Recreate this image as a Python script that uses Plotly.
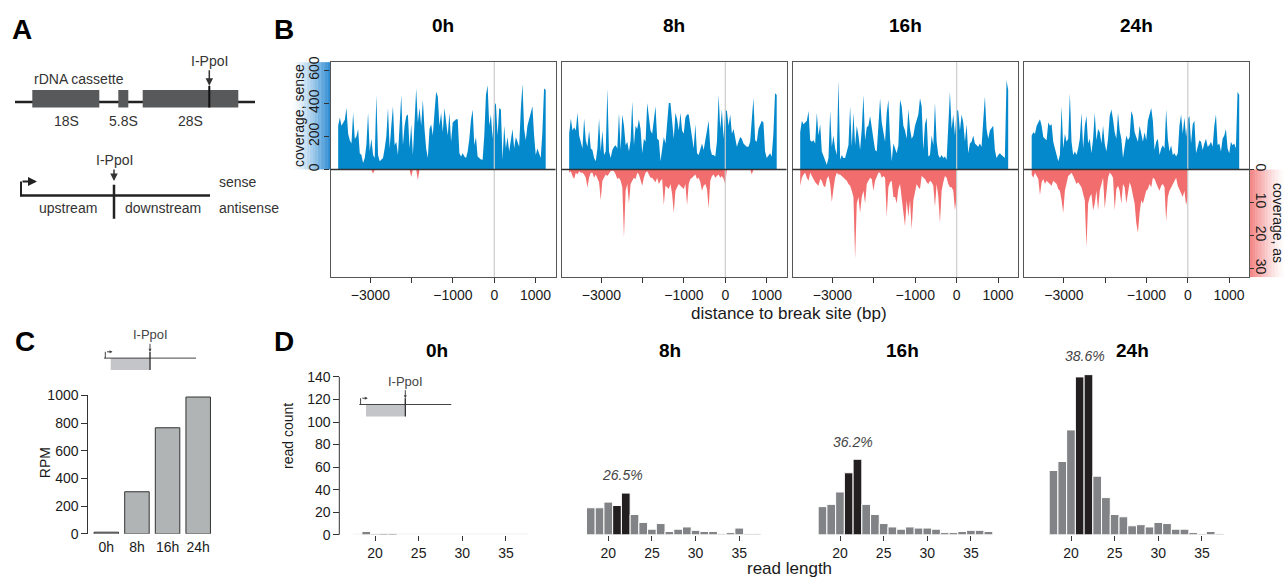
import numpy as np
import plotly.graph_objects as go

W, H = 1286, 583
FONT = "Liberation Sans, Arial, Helvetica, sans-serif"

TIMES = ["0h", "8h", "16h", "24h"]

# ---------------- B: strand-specific coverage around the break site ----------------
POS_START = -3780      # bp, first coverage bin
POS_STEP = 40.2        # bp between bins

SENSE_0H = [265, 314, 265, 284, 300, 372, 216, 176, 157, 343,
            186, 200, 245, 98, 88, 39, 69, 150, 343, 108,
            186, 88, 69, 451, 88, 49, 60, 69, 127, 200,
            372, 127, 265, 382, 147, 167, 88, 265, 451, 147,
            265, 323, 333, 127, 274, 88, 300, 490, 284, 372,
            265, 421, 245, 127, 69, 245, 274, 206, 343, 470,
            441, 265, 343, 225, 372, 265, 206, 343, 167, 284,
            294, 304, 304, 98, 78, 98, 78, 69, 108, 186,
            300, 363, 147, 196, 78, 69, 60, 59, 206, 450,
            510, 265, 333, 186, 382, 402, 206, 372, 363, 59,
            265, 127, 196, 108, 176, 245, 127, 196, 167, 137,
            363, 519, 245, 176, 265, 304, 333, 382, 206, 88,
            127, 98, 69, 225, 490, 480]
SENSE_8H = [216, 308, 235, 255, 235, 343, 206, 167, 127, 308,
            176, 137, 235, 127, 118, 69, 49, 127, 308, 108,
            235, 88, 108, 490, 108, 69, 118, 137, 147, 127,
            343, 118, 333, 265, 147, 167, 108, 176, 412, 147,
            265, 245, 304, 245, 98, 186, 167, 402, 323, 235,
            216, 323, 382, 186, 176, 49, 127, 196, 157, 304,
            402, 402, 294, 186, 343, 304, 235, 343, 235, 216,
            314, 333, 333, 265, 176, 127, 274, 98, 88, 127,
            157, 118, 176, 235, 294, 127, 88, 88, 78, 167,
            451, 245, 363, 186, 363, 353, 265, 333, 216, 245,
            186, 137, 167, 196, 186, 157, 147, 137, 137, 167,
            304, 431, 176, 167, 245, 274, 294, 284, 108, 69,
            88, 98, 78, 216, 461, 451]
SENSE_16H = [225, 294, 274, 284, 294, 353, 176, 167, 176, 157,
             343, 206, 274, 108, 78, 49, 29, 69, 353, 137,
             206, 127, 88, 539, 59, 88, 69, 69, 108, 147,
             382, 137, 343, 147, 265, 206, 118, 245, 451, 176,
             255, 265, 323, 235, 186, 118, 108, 265, 431, 284,
             235, 167, 343, 421, 186, 49, 157, 127, 98, 147,
             421, 382, 265, 235, 186, 363, 245, 186, 206, 265,
             294, 333, 431, 382, 118, 274, 314, 78, 88, 206,
             147, 402, 167, 88, 69, 88, 69, 78, 59, 265,
             470, 245, 333, 206, 363, 353, 235, 333, 284, 167,
             274, 98, 157, 167, 206, 157, 147, 137, 157, 137,
             294, 441, 245, 186, 235, 255, 265, 118, 69, 88,
             98, 88, 78, 69, 539, 480]
SENSE_24H = [206, 225, 216, 265, 284, 304, 265, 196, 186, 176,
             284, 265, 274, 167, 127, 78, 49, 88, 382, 127,
             216, 167, 186, 461, 167, 88, 108, 88, 127, 186,
             343, 127, 265, 323, 157, 186, 98, 186, 343, 176,
             245, 225, 157, 265, 157, 108, 186, 323, 363, 304,
             225, 186, 343, 235, 186, 69, 147, 206, 176, 196,
             353, 323, 225, 196, 167, 265, 206, 167, 225, 176,
             294, 343, 372, 294, 118, 167, 186, 88, 127, 147,
             127, 363, 186, 108, 147, 88, 98, 78, 98, 265,
             333, 216, 314, 196, 304, 323, 157, 274, 294, 98,
             137, 176, 167, 118, 157, 186, 137, 147, 167, 137,
             265, 333, 147, 157, 108, 186, 206, 245, 127, 98,
             167, 147, 157, 127, 470, 451]

AS_0H = [0, 0, 0, 0, 0, 0, 0, 0, 0, 0,
         0, 0, 0, 0, 0, 0, 0, 0, 0, 0,
         0, 1.3, 0, 0, 0, 0, 0, 0, 0, 0,
         0, 0, 0, 0, 0, 0, 0, 0, 0, 0,
         0, 0, 0, 0, 2.3, 0, 0, 0, 3.2, 0,
         0, 0, 0, 0, 0, 0, 0, 0, 0, 0,
         0, 0, 0, 0, 0, 0, 0, 0, 0, 0,
         0, 0, 0, 0, 0, 0, 0, 0, 0, 0,
         0, 0, 0, 0, 0, 0, 0, 0, 0, 0,
         0, 0, 0, 0, 0]
AS_8H = [1.0, 0.5, 2.0, 2.9, 1.0, 1.5, 0.5, 1.0, 1.0, 1.5,
         2.5, 5.4, 2.5, 1.0, 1.0, 2.5, 1.5, 2.5, 3.9, 9.3,
         3.4, 2.5, 1.5, 2.0, 1.0, 0.5, 0.3, 0.5, 1.5, 2.9,
         2.5, 3.4, 5.4, 20.6, 6.4, 4.4, 10.3, 4.4, 3.4, 2.5,
         2.9, 1.0, 1.5, 3.4, 4.9, 2.5, 1.0, 0.5, 1.5, 2.5,
         2.5, 3.4, 3.9, 2.5, 4.4, 3.4, 2.9, 10.8, 4.9, 5.4,
         5.9, 4.4, 7.4, 13.2, 6.4, 5.4, 4.4, 4.9, 5.4, 5.9,
         4.4, 10.8, 4.4, 2.9, 2.5, 2.0, 1.5, 2.9, 2.5, 3.9,
         6.4, 4.9, 4.4, 5.9, 11.8, 3.4, 2.0, 1.5, 2.5, 2.0,
         1.5, 2.5, 2.0, 2.9, 4.4, 0, 0, 0, 0, 0,
         0, 0, 0, 0, 0, 0, 0, 0, 0, 0,
         1.5, 0]
AS_16H = [4.9, 2.5, 1.5, 1.0, 2.5, 3.4, 1.0, 2.0, 2.9, 3.9,
          4.4, 4.9, 2.9, 3.4, 4.9, 5.4, 2.9, 2.0, 4.4, 9.8,
          5.9, 2.5, 1.0, 1.5, 1.5, 2.0, 2.5, 2.9, 3.4, 4.4,
          4.9, 6.4, 8.3, 27.0, 10.3, 8.3, 13.2, 8.3, 6.4, 10.3,
          4.4, 3.4, 2.5, 2.9, 6.4, 3.4, 2.0, 1.0, 1.0, 2.5,
          2.0, 2.5, 14.2, 5.4, 3.9, 3.4, 8.3, 8.3, 10.3, 5.9,
          4.4, 8.3, 12.3, 17.2, 9.3, 14.2, 9.3, 18.1, 9.3, 6.4,
          4.4, 5.4, 5.9, 2.0, 2.5, 2.9, 3.9, 4.4, 3.4, 3.9,
          4.9, 11.3, 4.4, 8.3, 16.2, 6.4, 3.9, 2.0, 2.5, 4.4,
          5.4, 5.4, 6.4, 12.3, 8.3]
AS_24H = [1.5, 2.5, 1.0, 2.0, 2.9, 7.8, 3.9, 2.9, 4.4, 3.4,
          3.9, 4.4, 4.9, 3.4, 3.9, 4.4, 5.9, 6.4, 9.3, 13.2,
          6.4, 4.4, 2.0, 1.5, 1.0, 2.0, 3.4, 4.4, 3.9, 4.9,
          5.4, 7.4, 9.3, 23.5, 10.3, 8.3, 7.4, 12.3, 10.3, 6.4,
          12.3, 6.4, 3.9, 2.5, 11.8, 6.4, 2.5, 1.0, 1.5, 2.5,
          12.3, 5.9, 4.9, 6.4, 10.3, 4.4, 5.4, 10.3, 6.4, 3.9,
          5.4, 7.4, 10.3, 16.2, 19.1, 13.2, 9.3, 10.3, 8.3, 6.4,
          5.9, 4.4, 5.4, 2.5, 2.9, 4.4, 5.4, 6.4, 4.9, 4.4,
          5.4, 15.7, 8.3, 6.4, 5.4, 4.4, 3.4, 2.5, 4.9, 5.9,
          7.4, 8.3, 6.4, 10.8, 8.3]

B_TICKVALS = [-3000, -2000, -1000, 0, 1000]
B_TICKTEXT = ["\u22123000", "", "\u22121000", "0", "1000"]
SENSE_TICKS = [0, 200, 400, 600]
AS_TICKS = [0, 10, 20, 30]

# ---------------- C: RPM upstream of the break ----------------
RPM = [12, 304, 766, 988]
RPM_TICKS = [0, 200, 400, 600, 800, 1000]

# ---------------- D: read length distributions ----------------
READ_LEN = [18, 19, 20, 21, 22, 23, 24, 25, 26, 27,
            28, 29, 30, 31, 32, 33, 34, 35, 36, 37]
COUNTS_0H = [0, 3, 1, 1, 1, 0, 0, 0, 0, 0, 0, 0, 0, 0, 0, 0, 0, 0, 0, 0]
COUNTS_8H = [24, 24, 29, 26, 37, 18, 11, 5, 10, 3, 5, 7, 4, 3, 3, 1, 2, 6, 1, 1]
COUNTS_16H = [25, 27, 38, 55, 67, 27, 18, 10, 7, 5, 7, 6, 6, 5, 2, 2, 3, 4, 4, 3]
COUNTS_24H = [57, 65, 93, 140, 142, 52, 33, 18, 16, 8, 9, 7, 11, 10, 5, 5, 2, 1, 3, 1]
HIGHLIGHT_LEN = [21, 22]
PCT_LABELS = ["", "26.5%", "36.2%", "38.6%"]
COUNT_TICKS = [0, 20, 40, 60, 80, 100, 120, 140]
LEN_TICKS = [20, 25, 30, 35]

BLUE = "rgb(3,137,204)"
RED = "rgb(242,110,110)"
BAR_GRAY = "#828386"
BAR_DARK = "#231f20"
TXT = "#1a1a1a"
SCHEM = "#333333"


def px(x):
    return x / W


def py(y):
    return 1 - y / H


def dx(a, b):
    return [px(a), px(b)]


def dy(top, bottom):
    return [py(bottom), py(top)]


fig = go.Figure()
layout = dict(width=W, height=H, margin=dict(l=0, r=0, t=0, b=0),
              paper_bgcolor="white", plot_bgcolor="white", showlegend=False,
              autosize=False, font=dict(family=FONT, color=TXT))
shapes = []
annotations = []


def txt(x, y, s, size=14, color=TXT, bold=False, italic=False, angle=0, xanchor="center"):
    if bold:
        s = "<b>" + s + "</b>"
    if italic:
        s = "<i>" + s + "</i>"
    return dict(x=px(x), y=py(y), xref="paper", yref="paper", text=s, showarrow=False,
                font=dict(family=FONT, size=size, color=color), textangle=angle,
                xanchor=xanchor, yanchor="middle")


def arrow(xt, yt, ax, ay, text="", size=14, color=SCHEM, width=1.5, head=2, headsize=1.0):
    return dict(x=px(xt), y=py(yt), xref="paper", yref="paper", ax=ax, ay=ay,
                text=text, showarrow=True, arrowhead=head, arrowsize=headsize,
                arrowwidth=width, arrowcolor=color, standoff=0, startstandoff=0,
                font=dict(family=FONT, size=size, color=color))


def pline(x0, y0, x1, y1, color=SCHEM, width=2):
    return dict(type="line", xref="paper", yref="paper", x0=px(x0), y0=py(y0),
                x1=px(x1), y1=py(y1), line=dict(color=color, width=width))


def prect(x0, y0, x1, y1, fill, opacity=1.0, layer="above"):
    return dict(type="rect", xref="paper", yref="paper", x0=px(x0), y0=py(y0),
                x1=px(x1), y1=py(y1), fillcolor=fill, opacity=opacity,
                line=dict(width=0), layer=layer)


# ================= Panel B =================
B_X = [(330.5, 555.5), (561.5, 786.5), (792.5, 1018.0), (1024.0, 1249.0)]
B_TOP, B_BOT = 55.7, 276.7
SENSE_RANGE = [-651, 649]
AS_RANGE = [32.55, -32.45]
senses = [SENSE_0H, SENSE_8H, SENSE_16H, SENSE_24H]
antis = [AS_0H, AS_8H, AS_16H, AS_24H]
n_max = max(len(s) for s in senses)
positions = POS_START + POS_STEP * np.arange(n_max)

# gradient behind axis titles
NG = 26
for k in range(NG):
    x0 = 290 + (330.5 - 290) * k / NG
    x1 = 290 + (330.5 - 290) * (k + 1) / NG
    shapes.append(prect(x0, B_TOP, x1 + 0.3, 166, "rgb(20,125,205)", 0.9 * ((k + 0.5) / NG) ** 1.6, "below"))
for k in range(NG):
    x0 = 1249 + (1286 - 1249) * k / NG
    x1 = 1249 + (1286 - 1249) * (k + 1) / NG
    shapes.append(prect(x0, 166, x1 + 0.3, B_BOT, "rgb(240,105,105)", 0.85 * (1 - (k + 0.5) / NG) ** 1.6, "below"))

for k in range(4):
    xs = "" if k == 0 else str(k + 1)
    ys = "" if k == 0 else str(k + 1)
    ya = str(k + 5)
    s, a = senses[k], antis[k]
    fig.add_trace(go.Scatter(x=positions[:len(s)], y=s, xaxis="x" + xs, yaxis="y" + ys,
                             mode="lines", line=dict(width=0, color=BLUE), fill="tozeroy",
                             fillcolor=BLUE, hoverinfo="skip"))
    fig.add_trace(go.Scatter(x=positions[:len(a)], y=a, xaxis="x" + xs, yaxis="y" + ya,
                             mode="lines", line=dict(width=0, color=RED), fill="tozeroy",
                             fillcolor=RED, hoverinfo="skip"))
    layout["xaxis" + xs] = dict(domain=dx(*B_X[k]), range=[-3966, 1482], anchor="y" + ys,
                                showgrid=False, zeroline=False, showline=True, mirror=True,
                                linecolor="#555", linewidth=1.3, ticks="outside", ticklen=5,
                                tickcolor="#333", tickvals=B_TICKVALS, ticktext=B_TICKTEXT,
                                tickfont=dict(size=14, color=TXT, family=FONT))
    yax = dict(domain=dy(B_TOP, B_BOT), range=SENSE_RANGE, anchor="x" + xs,
               showgrid=False, zeroline=False, showline=True, mirror=True,
               linecolor="#555", linewidth=1.3)
    if k == 0:
        yax.update(ticks="outside", ticklen=5, tickcolor="#333", tickvals=SENSE_TICKS,
                   tickangle=-90, tickfont=dict(size=14, color=TXT, family=FONT))
    else:
        yax.update(ticks="", showticklabels=False)
    layout["yaxis" + ys] = yax
    yas = dict(domain=dy(B_TOP, B_BOT), range=AS_RANGE, anchor="x" + xs,
               overlaying="y" + ys, side="right", showgrid=False, zeroline=False,
               showline=False)
    if k == 3:
        yas.update(ticks="outside", ticklen=4, tickcolor="#333", tickvals=AS_TICKS,
                   tickangle=90, ticklabelstandoff=-4,
                   tickfont=dict(size=14, color=TXT, family=FONT))
    else:
        yas.update(visible=False)
    layout["yaxis" + ya] = yas
    # break site and zero line
    shapes.append(dict(type="line", xref="x" + xs, yref="y" + ys + " domain", x0=0, x1=0,
                       y0=0, y1=1, line=dict(color="#cccccc", width=1.2)))
    shapes.append(dict(type="line", xref="x" + xs + " domain", yref="y" + ys, x0=0, x1=1,
                       y0=0, y1=0, line=dict(color="#333", width=1.5)))
    annotations.append(txt((B_X[k][0] + B_X[k][1]) / 2, 18, TIMES[k], size=19, color="#000", bold=True))

annotations.append(txt(299, 111, "coverage, sense", size=14, angle=-90))
annotations.append(txt(1278, 221, "coverage, as", size=14, angle=90))
annotations.append(txt(789, 314, "distance to break site (bp)", size=17))

# ================= Panel letters =================
for lab, (x, y) in zip("ABCD", [(22, 22), (284, 22), (25, 343), (284, 343)]):
    annotations.append(txt(x, y, lab, size=28, color="#000", bold=True))

# ================= Panel A schematic =================
shapes.append(pline(15, 96.7, 255, 96.7, "#222", 2.5))
for (x0, x1) in [(32.3, 99.3), (118.3, 128.3), (142.7, 238.3)]:
    shapes.append(prect(x0, 84.3, x1, 102.3, "#58595b"))
shapes.append(pline(209.3, 80, 209.3, 102.3, "#111", 2))
annotations.append(arrow(209.3, 80, 0, -25, "I-PpoI", size=14, color="#333", width=1.5))
annotations.append(txt(32, 73, "rDNA cassette", size=14, color="#333", xanchor="left"))
for lab, x in [("18S", 66.7), ("5.8S", 123.3), ("28S", 190.7)]:
    annotations.append(txt(x, 116, lab, size=14, color="#333"))

shapes.append(pline(20, 192.7, 210, 192.7, "#222", 2.5))
shapes.append(pline(114, 181.7, 114, 216.7, "#222", 2.5))
shapes.append(pline(21, 193.5, 21, 178.3, "#222", 2))
annotations.append(arrow(37, 178.3, -16, 0, "", color="#222", width=2, headsize=0.9))
annotations.append(arrow(114, 178, 0, -21, "I-PpoI", size=14, color="#333", width=1.5))
annotations.append(txt(217, 179, "sense", size=14, color="#333", xanchor="left"))
annotations.append(txt(217, 206, "antisense", size=14, color="#333", xanchor="left"))
annotations.append(txt(68, 206, "upstream", size=14, color="#333"))
annotations.append(txt(163, 206, "downstream", size=14, color="#333"))


# ================= small schematic (C and D) =================
def mini_schematic(x0, y_line, scale=1.0):
    s = scale
    shapes.append(prect(x0 + 6.7 * s, y_line, x0 + 45.3 * s, y_line + 12.3 * s, "#c3c5c8"))
    shapes.append(pline(x0, y_line, x0 + 92 * s, y_line, "#444", 1))
    shapes.append(pline(x0 + 46 * s, y_line - 6.5 * s, x0 + 46 * s, y_line + 12.3 * s, "#333", 1.4))
    shapes.append(pline(x0 + 1.3 * s, y_line, x0 + 1.3 * s, y_line - 6.5 * s, "#444", 1))
    annotations.append(arrow(x0 + 8.5 * s, y_line - 6.5 * s, -7 * s, 0, "", color="#444", width=1, headsize=0.6))
    annotations.append(arrow(x0 + 46 * s, y_line - 6.5 * s, 0, -17, "I-PpoI", size=13, color="#444", width=1, headsize=0.6))


# ================= Panel C =================
mini_schematic(104, 360)
fig.add_trace(go.Bar(x=TIMES, y=RPM, xaxis="x5", yaxis="y9", width=0.8,
                     marker=dict(color="#b1b4b5", line=dict(color="#333", width=1)),
                     hoverinfo="skip"))
layout["xaxis5"] = dict(domain=dx(91, 213.5), anchor="y9", type="category",
                        showgrid=False, zeroline=False, showline=False, ticks="",
                        tickfont=dict(size=14, color=TXT, family=FONT), ticklabelstandoff=3)
layout["yaxis9"] = dict(domain=dy(398.3, 540.7), range=[0, 1000], anchor="free",
                        position=px(87.3), showgrid=False, zeroline=False, showline=True,
                        linecolor="#333", linewidth=1, ticks="outside", ticklen=6,
                        tickcolor="#333", tickvals=RPM_TICKS,
                        tickfont=dict(size=14, color=TXT, family=FONT))
annotations.append(txt(45, 468, "RPM", size=14, angle=-90))

# ================= Panel D =================
counts = [COUNTS_0H, COUNTS_8H, COUNTS_16H, COUNTS_24H]
D_ZERO = [375.0, 608.3, 840.0, 1071.0]   # pixel of read length 20
UNIT = 8.73
D_TOP, D_BOT = 367.7, 541.7
pct_pos = [None, (622, 480), (853, 446), (1085, 358)]
title_x = [437, 670, 902, 1132]
colors = [BAR_DARK if L in HIGHLIGHT_LEN else BAR_GRAY for L in READ_LEN]
for k in range(4):
    xa = "x" + str(6 + k)
    ya = "y" + str(10 + k)
    left = D_ZERO[k] - 3 * UNIT
    right = D_ZERO[k] + 18 * UNIT
    if k == 0:
        shapes.append(dict(type="line", xref=xa, yref=ya, x0=17.5, x1=37.5, y0=0, y1=0,
                           line=dict(color="#dddddd", width=2), layer="below"))
    fig.add_trace(go.Bar(x=READ_LEN, y=counts[k], xaxis=xa, yaxis=ya, width=1.0,
                         marker=dict(color=colors, line=dict(color="white", width=1)),
                         hoverinfo="skip"))
    layout["xaxis" + str(6 + k)] = dict(domain=dx(left, right), range=[17, 38], anchor=ya,
                                        showgrid=False, zeroline=False, showline=False,
                                        ticks="outside", ticklen=5, tickcolor="#333",
                                        tickvals=LEN_TICKS,
                                        tickfont=dict(size=14, color=TXT, family=FONT))
    yd = dict(domain=dy(D_TOP, D_BOT), range=[0, 150], showgrid=False, zeroline=False,
              showline=False)
    if k == 0:
        yd.update(anchor="free", position=px(339.3), ticks="outside", ticklen=6,
                  tickcolor="#333", tickvals=COUNT_TICKS,
                  tickfont=dict(size=14, color=TXT, family=FONT))
    else:
        yd.update(anchor=xa, visible=False)
    layout["yaxis" + str(10 + k)] = yd
    annotations.append(txt(title_x[k], 352, TIMES[k], size=19, color="#000", bold=True))
    if PCT_LABELS[k]:
        annotations.append(txt(pct_pos[k][0], pct_pos[k][1], PCT_LABELS[k], size=14,
                               color="#444", italic=True))

shapes.append(dict(type="line", xref="paper", yref="y10", x0=px(339.3), x1=px(339.3),
                   y0=0, y1=140, line=dict(color="#333", width=1)))
mini_schematic(359.3, 407.7)
annotations.append(txt(288, 440, "read count", size=14, angle=-90))
annotations.append(txt(789, 576, "read length", size=17))

layout["shapes"] = shapes
layout["annotations"] = annotations
fig.update_layout(**layout)
fig.write_html("out.html", config={"responsive": False, "displayModeBar": False},
               post_script="document.body.style.margin='0px';document.body.style.overflow='hidden';")
